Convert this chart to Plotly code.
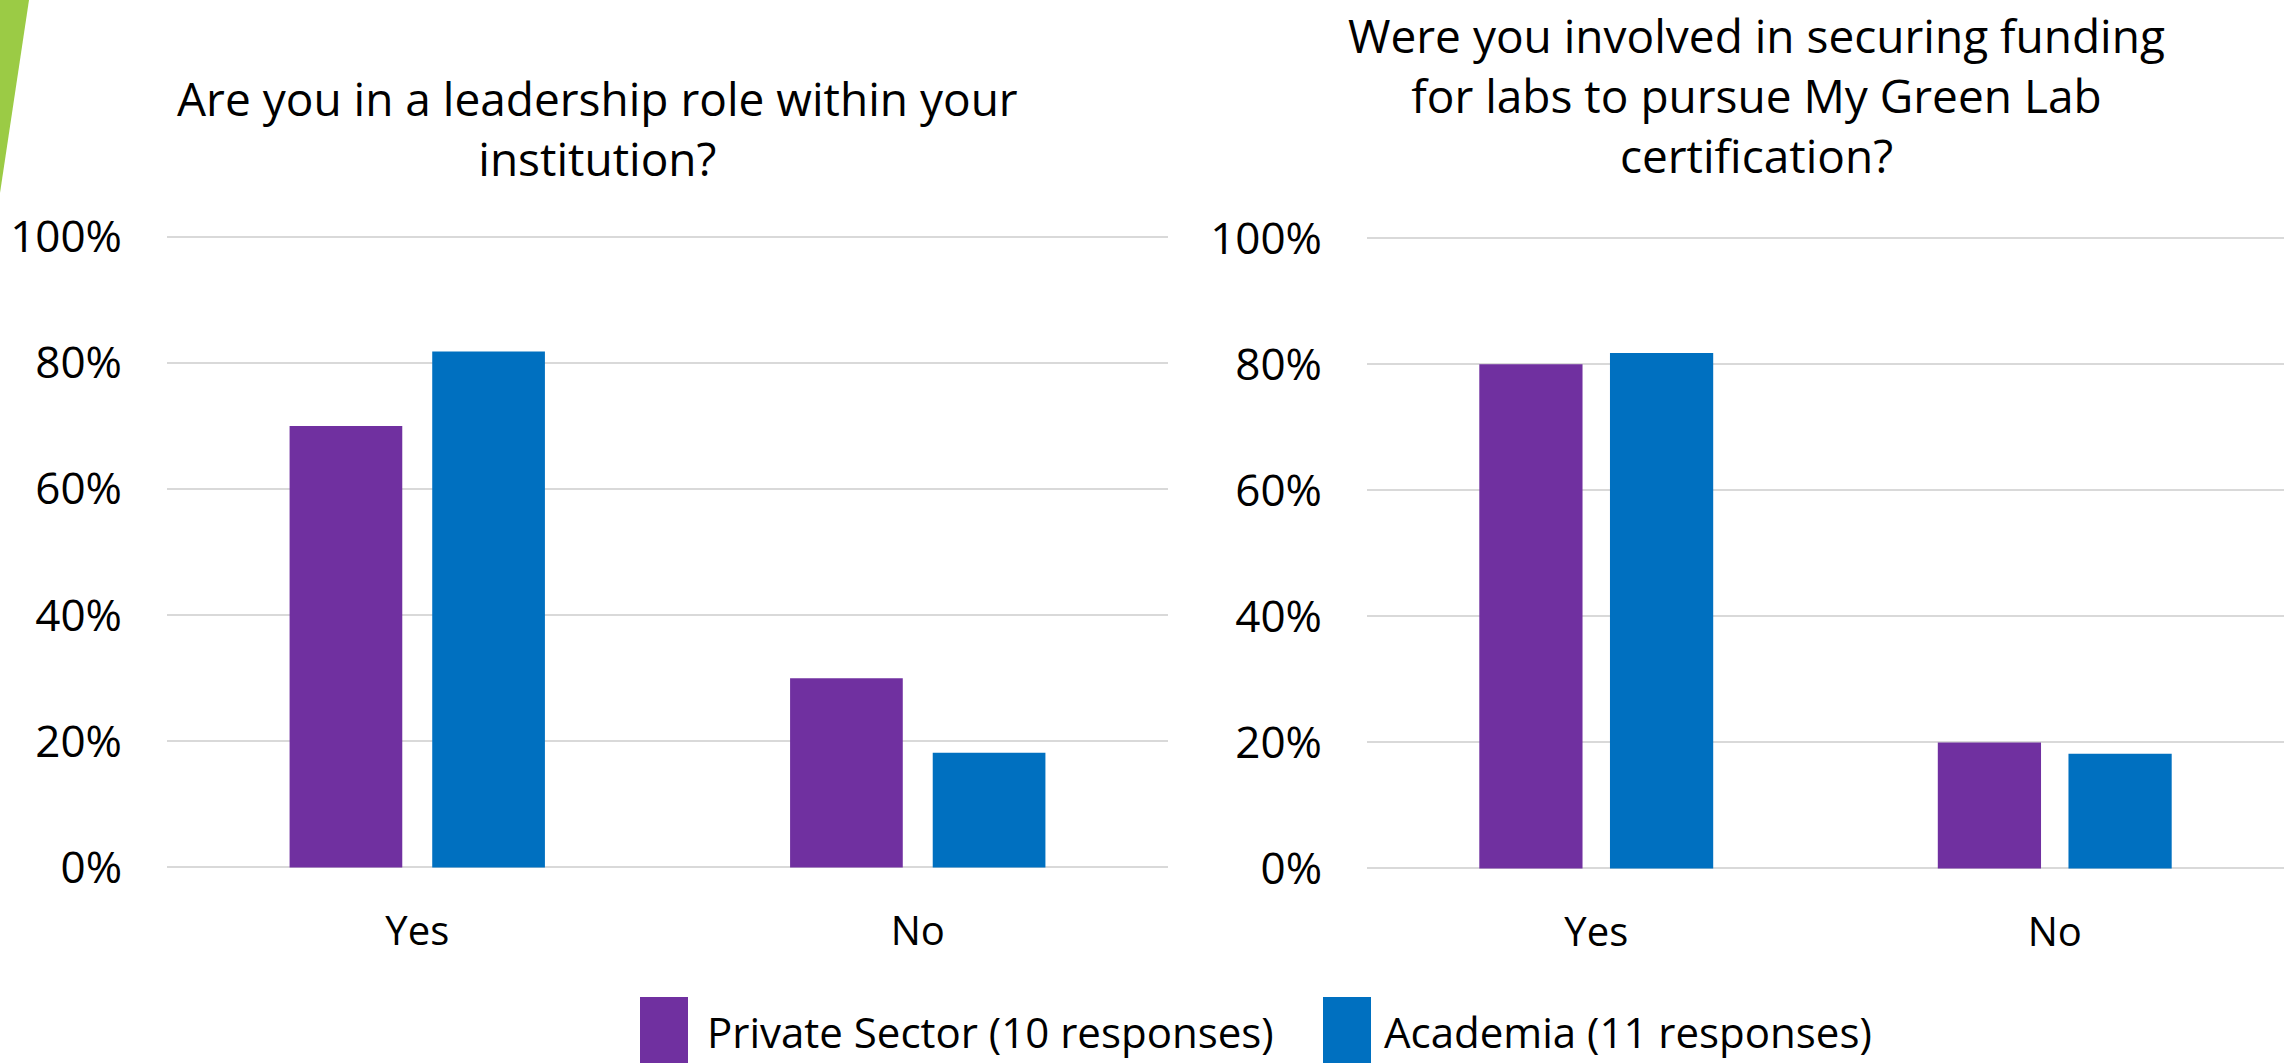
import plotly.graph_objects as go

# Survey answers, share of respondents per group
categories = ["Yes", "No"]
series_names = ["Private Sector (10 responses)", "Academia (11 responses)"]
leadership_private = [0.70, 0.30]
leadership_academia = [0.818, 0.182]
funding_private = [0.80, 0.20]
funding_academia = [0.818, 0.182]

title_left = "Are you in a leadership role within your<br>institution?"
title_right = "Were you involved in securing funding<br>for labs to pursue My Green Lab<br>certification?"

W, H = 2295, 1063
PURPLE = "#7030A0"
BLUE = "#0070C0"
GRID = "#D9D9D9"
FONT = "Open Sans"
PAD = 0.005  # small range padding so the 0% and 100% gridlines are drawn


def px(x):
    return x / W


def py(y):
    return 1 - y / H


def y_domain(y_zero, y_full):
    """Plot-area domain whose 0% and 100% levels land on the given pixel rows."""
    unit = y_zero - y_full
    return [py(y_zero + PAD * unit), py(y_full - PAD * unit)]


fig = go.Figure()

fig.add_trace(go.Bar(x=categories, y=leadership_private, name=series_names[0],
                     marker=dict(color=PURPLE, line=dict(width=0)),
                     xaxis="x", yaxis="y", showlegend=False))
fig.add_trace(go.Bar(x=categories, y=leadership_academia, name=series_names[1],
                     marker=dict(color=BLUE, line=dict(width=0)),
                     xaxis="x", yaxis="y", showlegend=False))
fig.add_trace(go.Bar(x=categories, y=funding_private, name=series_names[0],
                     marker=dict(color=PURPLE, line=dict(width=0)),
                     xaxis="x2", yaxis="y2", showlegend=False))
fig.add_trace(go.Bar(x=categories, y=funding_academia, name=series_names[1],
                     marker=dict(color=BLUE, line=dict(width=0)),
                     xaxis="x2", yaxis="y2", showlegend=False))

xaxis_common = dict(type="category", showgrid=False, zeroline=False, showline=False,
                    ticks="", tickfont=dict(family=FONT, size=40, color="#000000"),
                    ticklabelstandoff=33, automargin=False, fixedrange=True)
yaxis_common = dict(range=[-PAD, 1 + PAD], tickvals=[0, 0.2, 0.4, 0.6, 0.8, 1.0],
                    tickformat=".0%",
                    showgrid=True, gridcolor=GRID, gridwidth=2, zeroline=False,
                    showline=False, ticks="",
                    tickfont=dict(family=FONT, size=44, color="#000000"),
                    ticklabelstandoff=44, automargin=False, fixedrange=True)

fig.update_layout(
    width=W, height=H,
    margin=dict(l=0, r=0, t=0, b=0, autoexpand=False),
    paper_bgcolor="#FFFFFF", plot_bgcolor="#FFFFFF",
    barmode="group", bargap=0.43, bargroupgap=0.21,
    showlegend=False,
    font=dict(family=FONT, color="#000000"),
    xaxis=dict(domain=[px(167), px(1168)], anchor="y", **xaxis_common),
    yaxis=dict(domain=y_domain(867.5, 236.7), anchor="x", **yaxis_common),
    xaxis2=dict(domain=[px(1367), px(2284)], anchor="y2", **xaxis_common),
    yaxis2=dict(domain=y_domain(868.5, 238.3), anchor="x2", **yaxis_common),
)

annotations = [
    dict(text=title_left, x=px(597), y=py(128), xref="paper", yref="paper",
         xanchor="center", yanchor="middle", showarrow=False, align="center",
         font=dict(family=FONT, size=46, color="#000000")),
    dict(text=title_right, x=px(1756), y=py(95), xref="paper", yref="paper",
         xanchor="center", yanchor="middle", showarrow=False, align="center",
         font=dict(family=FONT, size=46, color="#000000")),
    dict(text=series_names[0], x=px(706), y=py(1031), xref="paper", yref="paper",
         xanchor="left", yanchor="middle", showarrow=False, borderpad=0,
         font=dict(family=FONT, size=42, color="#000000")),
    dict(text=series_names[1], x=px(1383), y=py(1031), xref="paper", yref="paper",
         xanchor="left", yanchor="middle", showarrow=False, borderpad=0,
         font=dict(family=FONT, size=42, color="#000000")),
]

shapes = [
    # green accent wedge in the top-left corner
    dict(type="path", xref="paper", yref="paper",
         path=f"M 0 1 L {px(29)} 1 L 0 {py(193)} Z",
         fillcolor="#9BCB45", line=dict(width=0), layer="above"),
    # legend swatches
    dict(type="rect", xref="paper", yref="paper",
         x0=px(640), x1=px(688), y0=py(1070), y1=py(997),
         fillcolor=PURPLE, line=dict(width=0)),
    dict(type="rect", xref="paper", yref="paper",
         x0=px(1323), x1=px(1371), y0=py(1070), y1=py(997),
         fillcolor=BLUE, line=dict(width=0)),
]

fig.update_layout(annotations=annotations, shapes=shapes)

fig.write_html("out.html")
